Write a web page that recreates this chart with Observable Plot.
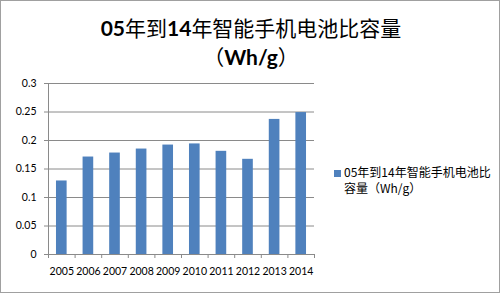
<!DOCTYPE html>
<html><head><meta charset="utf-8">
<script src="https://cdn.jsdelivr.net/npm/d3@7"></script>
<script src="https://cdn.jsdelivr.net/npm/@observablehq/plot@0.6"></script>
<style>
html,body{margin:0;padding:0;background:#fff;}
#wrap{position:relative;width:500px;height:293px;box-sizing:border-box;border:1px solid #a0a0a0;overflow:hidden;font-family:"Lato","Noto Sans CJK SC",sans-serif;color:#000;}
#chart{position:absolute;left:-1px;top:-1px;}
.t{position:absolute;left:0;width:500px;text-align:center;font-family:"Noto Sans CJK SC",sans-serif;font-size:21px;line-height:28px;}
.t b{font-family:"Lato","Noto Sans CJK SC",sans-serif;font-weight:bold;}
#legend{position:absolute;left:333px;top:163px;font-family:"Noto Sans CJK SC",sans-serif;font-size:12px;line-height:16px;}
#legend .sw{position:absolute;left:0;top:6px;width:7px;height:7px;}
#legend .tx{margin-left:10px;}
</style></head>
<body>
<div id="wrap">
  <div class="t" id="t1" style="top:12px"></div>
  <div class="t" id="t2" style="top:41px"></div>
  <div id="chart"></div>
  <div id="legend"><span class="sw"></span><div class="tx" id="lt"></div></div>
</div>
<script>
const years = [2005, 2006, 2007, 2008, 2009, 2010, 2011, 2012, 2013, 2014];
const values = [0.129, 0.171, 0.178, 0.185, 0.192, 0.194, 0.181, 0.167, 0.237, 0.249];
const yTicks = [0, 0.05, 0.1, 0.15, 0.2, 0.25, 0.3];
const yTickLabels = ["0", "0.05", "0.1", "0.15", "0.2", "0.25", "0.3"];
const titleLine1 = "<b>05</b>年到<b>14</b>年智能手机电池比容量";
const titleLine2 = "（<b>Wh/g</b>）";
const seriesName1 = "05年到14年智能手机电池比";
const seriesName2 = "容量（Wh/g）";
const barColor = "#4F81BD";
const lineColor = "#8a8a8a";

document.getElementById("t1").innerHTML = titleLine1;
document.getElementById("t2").innerHTML = titleLine2;
document.getElementById("lt").innerHTML = seriesName1 + "<br>" + seriesName2;
document.querySelector("#legend .sw").style.background = barColor;

const data = years.map((y, i) => ({year: y, value: values[i]}));
const boundaries = years.map(y => y - 0.5).concat([years[years.length - 1] + 0.5]);

const chart = Plot.plot({
  width: 330, height: 294,
  marginLeft: 48, marginRight: 16, marginTop: 83, marginBottom: 40,
  x: {type: "linear", domain: [years[0] - 0.5, years[years.length - 1] + 0.5]},
  y: {domain: [0, 0.3]},
  style: {fontFamily: "Lato, 'Noto Sans CJK SC', sans-serif", fontSize: "10.5px", color: "#000", background: "transparent", overflow: "visible"},
  marks: [
    Plot.ruleY(yTicks.slice(1), {stroke: lineColor}),
    Plot.rectY(data, {x1: d => d.year - 0.2, x2: d => d.year + 0.2, y1: 0, y2: "value", fill: barColor}),
    Plot.ruleY([0], {stroke: lineColor}),
    Plot.ruleX([years[0] - 0.5], {stroke: lineColor}),
    Plot.axisY({ticks: yTicks, tickFormat: d => yTickLabels[yTicks.indexOf(d)], tickSize: 4, tickPadding: 8, stroke: lineColor, strokeOpacity: 1, fill: "#000", label: null}),
    Plot.axisX({ticks: boundaries, tickFormat: () => "", tickSize: 4, stroke: lineColor, strokeOpacity: 1, label: null}),
    Plot.axisX({ticks: years, tickFormat: d => String(d), tickSize: 0, tickPadding: 13, fill: "#000", label: null})
  ]
});
document.getElementById("chart").appendChild(chart);
</script>
</body></html>
